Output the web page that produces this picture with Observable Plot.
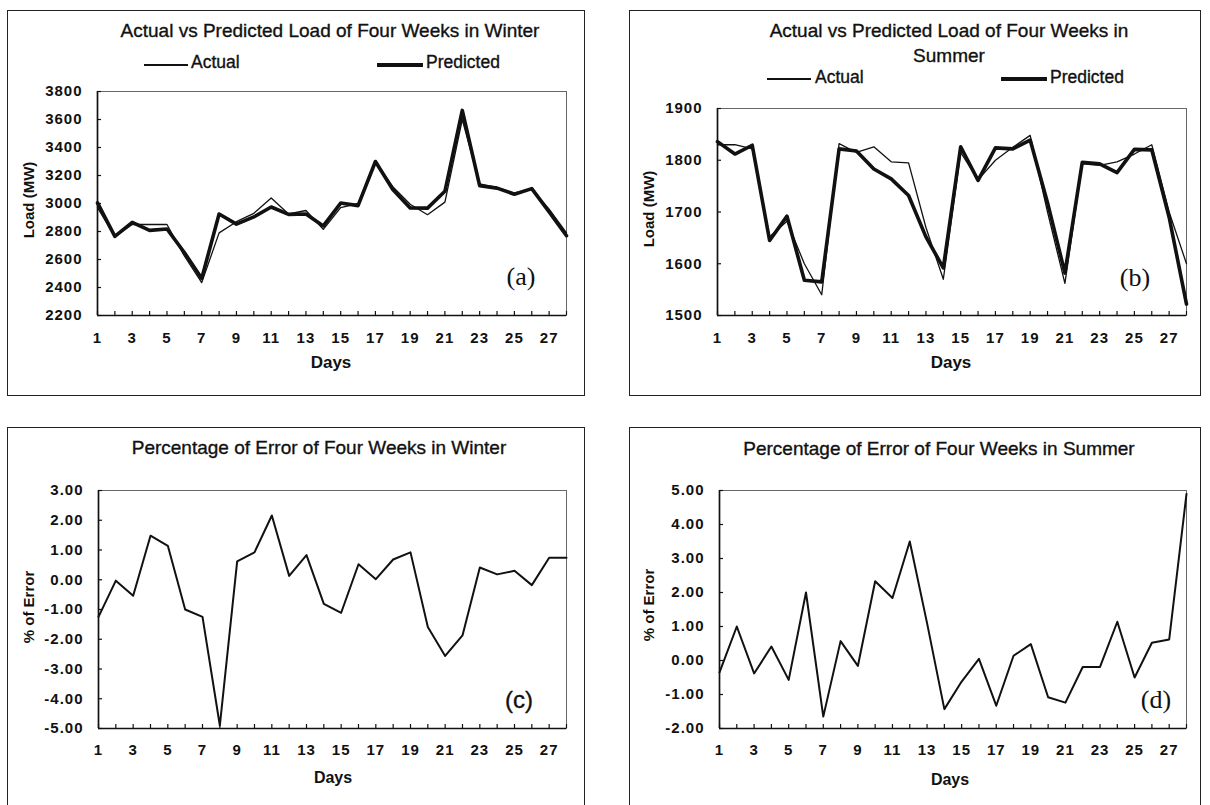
<!DOCTYPE html>
<html><head><meta charset="utf-8">
<script src="https://cdn.jsdelivr.net/npm/d3@7"></script>
<script src="https://cdn.jsdelivr.net/npm/@observablehq/plot@0.6"></script>
<style>
body{margin:0;background:#fff;}
#root{position:relative;width:1210px;height:805px;overflow:hidden;font-family:Arial,"Liberation Sans",sans-serif;color:#111;background:#fff;}
.box{position:absolute;border:1px solid #222;box-sizing:border-box;background:transparent;}
.t{position:absolute;white-space:nowrap;transform:translate(-50%,-50%);line-height:1;}
.l{position:absolute;white-space:nowrap;transform:translate(0,-50%);line-height:1;}
.rot{position:absolute;white-space:nowrap;transform:translate(-50%,-50%) rotate(-90deg);line-height:1;}
.leg{position:absolute;background:#111;}
.holder{position:absolute;}
.heavy{-webkit-text-stroke:0.35px #111;}
</style></head><body><div id="root"></div>
<script>
// ---- data ----
const days = [1,2,3,4,5,6,7,8,9,10,11,12,13,14,15,16,17,18,19,20,21,22,23,24,25,26,27,28];
const dayLabels = [1,3,5,7,9,11,13,15,17,19,21,23,25,27];

const winterActual = [2970,2765,2850,2850,2850,2625,2435,2790,2870,2930,3040,2925,2950,2815,2970,3000,3300,3120,2995,2920,3010,3600,3140,3115,3075,3100,2960,2790];
const winterPredicted = [3005,2765,2865,2808,2818,2650,2465,2925,2853,2904,2975,2922,2925,2840,3003,2985,3300,3100,2968,2967,3087,3665,3127,3110,3066,3106,2940,2770];

const summerActual = [1830,1830,1822,1652,1682,1600,1540,1832,1815,1826,1797,1795,1670,1570,1815,1762,1800,1825,1848,1700,1562,1793,1790,1797,1812,1830,1700,1600];
const summerPredicted = [1836,1812,1829,1645,1692,1568,1565,1822,1818,1783,1764,1732,1652,1592,1826,1761,1824,1822,1839,1718,1582,1796,1793,1776,1821,1820,1690,1522];

const winterError = [-1.25,-0.03,-0.54,1.48,1.14,-1.0,-1.25,-4.9,0.62,0.92,2.16,0.13,0.83,-0.81,-1.11,0.52,0.02,0.68,0.92,-1.59,-2.56,-1.87,0.41,0.18,0.30,-0.18,0.74,0.74];
const summerError = [-0.35,1.0,-0.38,0.41,-0.57,2.0,-1.65,0.57,-0.16,2.33,1.84,3.5,1.1,-1.43,-0.62,0.05,-1.33,0.14,0.48,-1.08,-1.24,-0.19,-0.19,1.14,-0.5,0.52,0.62,4.9];

const winterLoadTicks = [2200,2400,2600,2800,3000,3200,3400,3600,3800];
const summerLoadTicks = [1500,1600,1700,1800,1900];
const winterErrTicks = [-5,-4,-3,-2,-1,0,1,2,3];
const summerErrTicks = [-2,-1,0,1,2,3,4,5];

const titles = {
  a: "Actual vs Predicted Load of Four Weeks in Winter",
  b1: "Actual vs Predicted Load of Four Weeks in",
  b2: "Summer",
  c: "Percentage of Error of Four Weeks in Winter",
  d: "Percentage of Error of Four Weeks in Summer"
};

// ---- drawing ----
const root = document.getElementById("root");

function panel(cfg){
  const plotH = cfg.height - cfg.mt - cfg.mb;
  const plotW = cfg.width - cfg.ml - cfg.mr;
  const marks = [
    Plot.frame({stroke:"#666", strokeWidth:1}),
    Plot.tickX(days, {x: d => d, insetTop: plotH - 4, stroke:"#111", strokeWidth:1.2}),
    Plot.tickY(cfg.ticks, {y: d => d, insetRight: plotW - 4, stroke:"#111", strokeWidth:1.2}),
    Plot.ruleY([cfg.ticks[0]], {stroke:"#111", strokeWidth:1.7}),
    Plot.ruleX([days[0]], {stroke:"#111", strokeWidth:1.7}),
    ...cfg.series.map(s => Plot.line(days, {x: d => d, y: (d, i) => s.values[i], stroke:"#111", strokeWidth: s.w})),
    Plot.axisX({ticks: dayLabels, tickSize:0, tickPadding: cfg.xpad, tickFormat: d => String(d), label: null}),
    Plot.axisY({ticks: cfg.ticks, tickSize:0, tickPadding:15, tickFormat: cfg.fmt, label: null})
  ];
  const svg = Plot.plot({
    width: cfg.width, height: cfg.height,
    marginLeft: cfg.ml, marginRight: cfg.mr, marginTop: cfg.mt, marginBottom: cfg.mb,
    x: {domain: [1, 28]},
    y: {domain: [cfg.ticks[0], cfg.ticks[cfg.ticks.length - 1]]},
    style: {fontFamily: "Arial, 'Liberation Sans', sans-serif", fontSize: cfg.fs + "px", fontWeight: "bold",
            letterSpacing: "1px", color: "#111", background: "transparent", maxWidth: "none", overflow: "visible"},
    marks
  });
  const holder = document.createElement("div");
  holder.className = "holder";
  holder.style.left = cfg.left + "px";
  holder.style.top = cfg.top + "px";
  holder.style.width = cfg.width + "px";
  holder.style.height = cfg.height + "px";
  holder.appendChild(svg);
  root.appendChild(holder);
}

const fmtInt = d => String(d);
const fmt2 = d => d.toFixed(2);

panel({left:0, top:0, width:600, height:400, ml:97, mr:34, mt:91, mb:85, xpad:17, fs:15,
  ticks: winterLoadTicks, fmt: fmtInt,
  series: [{values: winterActual, w: 1.3}, {values: winterPredicted, w: 3.6}]});
panel({left:600, top:0, width:600, height:400, ml:117, mr:14, mt:108, mb:85, xpad:17, fs:15,
  ticks: summerLoadTicks, fmt: fmtInt,
  series: [{values: summerActual, w: 1.3}, {values: summerPredicted, w: 3.6}]});
panel({left:0, top:400, width:600, height:405, ml:98, mr:34, mt:90, mb:77, xpad:16, fs:15,
  ticks: winterErrTicks, fmt: fmt2,
  series: [{values: winterError, w: 2}]});
panel({left:600, top:400, width:600, height:405, ml:119, mr:14, mt:90, mb:77, xpad:16, fs:15,
  ticks: summerErrTicks, fmt: fmt2,
  series: [{values: summerError, w: 2}]});

function box(x, y, w, h){
  const b = document.createElement("div"); b.className = "box";
  Object.assign(b.style, {left:x+"px", top:y+"px", width:w+"px", height:h+"px"});
  root.appendChild(b);
}
function text(cls, s, x, y, style){
  const e = document.createElement("div"); e.className = cls; e.textContent = s;
  Object.assign(e.style, {left:x+"px", top:y+"px"}, style || {});
  root.appendChild(e);
}
function legLine(x1, x2, y, w){
  const e = document.createElement("div"); e.className = "leg";
  Object.assign(e.style, {left:x1+"px", top:(y - w/2)+"px", width:(x2-x1)+"px", height:w+"px"});
  root.appendChild(e);
}

box(7, 10, 578, 386);
box(629, 10, 572, 386);
box(7, 427, 578, 400);
box(629, 427, 572, 400);

const titleStyle = {fontSize:"19px"};
text("t heavy", titles.a, 330, 30, titleStyle);
text("t heavy", titles.b1, 949, 30, titleStyle);
text("t heavy", titles.b2, 949, 55, titleStyle);
text("t heavy", titles.c, 319, 447, titleStyle);
text("t heavy", titles.d, 939, 448, titleStyle);

const legStyle = {fontSize:"17.5px"};
legLine(144, 188, 65, 1.5); text("l heavy", "Actual", 191, 63, legStyle);
legLine(377, 423, 65, 4); text("l heavy", "Predicted", 426, 63, legStyle);
legLine(767, 811, 79, 1.5); text("l heavy", "Actual", 815, 78, legStyle);
legLine(1001, 1047, 79, 4); text("l heavy", "Predicted", 1050, 78, legStyle);

const axStyle = {fontSize:"17px", fontWeight:"bold"};
text("t", "Days", 331, 362, axStyle);
text("t", "Days", 951, 362, axStyle);
text("t", "Days", 333, 778, {fontSize:"16px", fontWeight:"bold"});
text("t", "Days", 950, 780, {fontSize:"16px", fontWeight:"bold"});

const yl = {fontSize:"15px", fontWeight:"bold"};
text("rot", "Load (MW)", 28, 200, yl);
text("rot", "Load (MW)", 648, 209, yl);
text("rot", "% of Error", 28, 607, yl);
text("rot", "% of Error", 648, 605, yl);

const serif = {fontFamily:"'Times New Roman','Liberation Serif',serif", fontSize:"26px"};
text("t", "(a)", 521, 277, serif);
text("t", "(b)", 1135, 278, serif);
text("t heavy", "(c)", 519, 700, {fontSize:"24px"});
text("t", "(d)", 1156, 700, serif);
</script></body></html>
